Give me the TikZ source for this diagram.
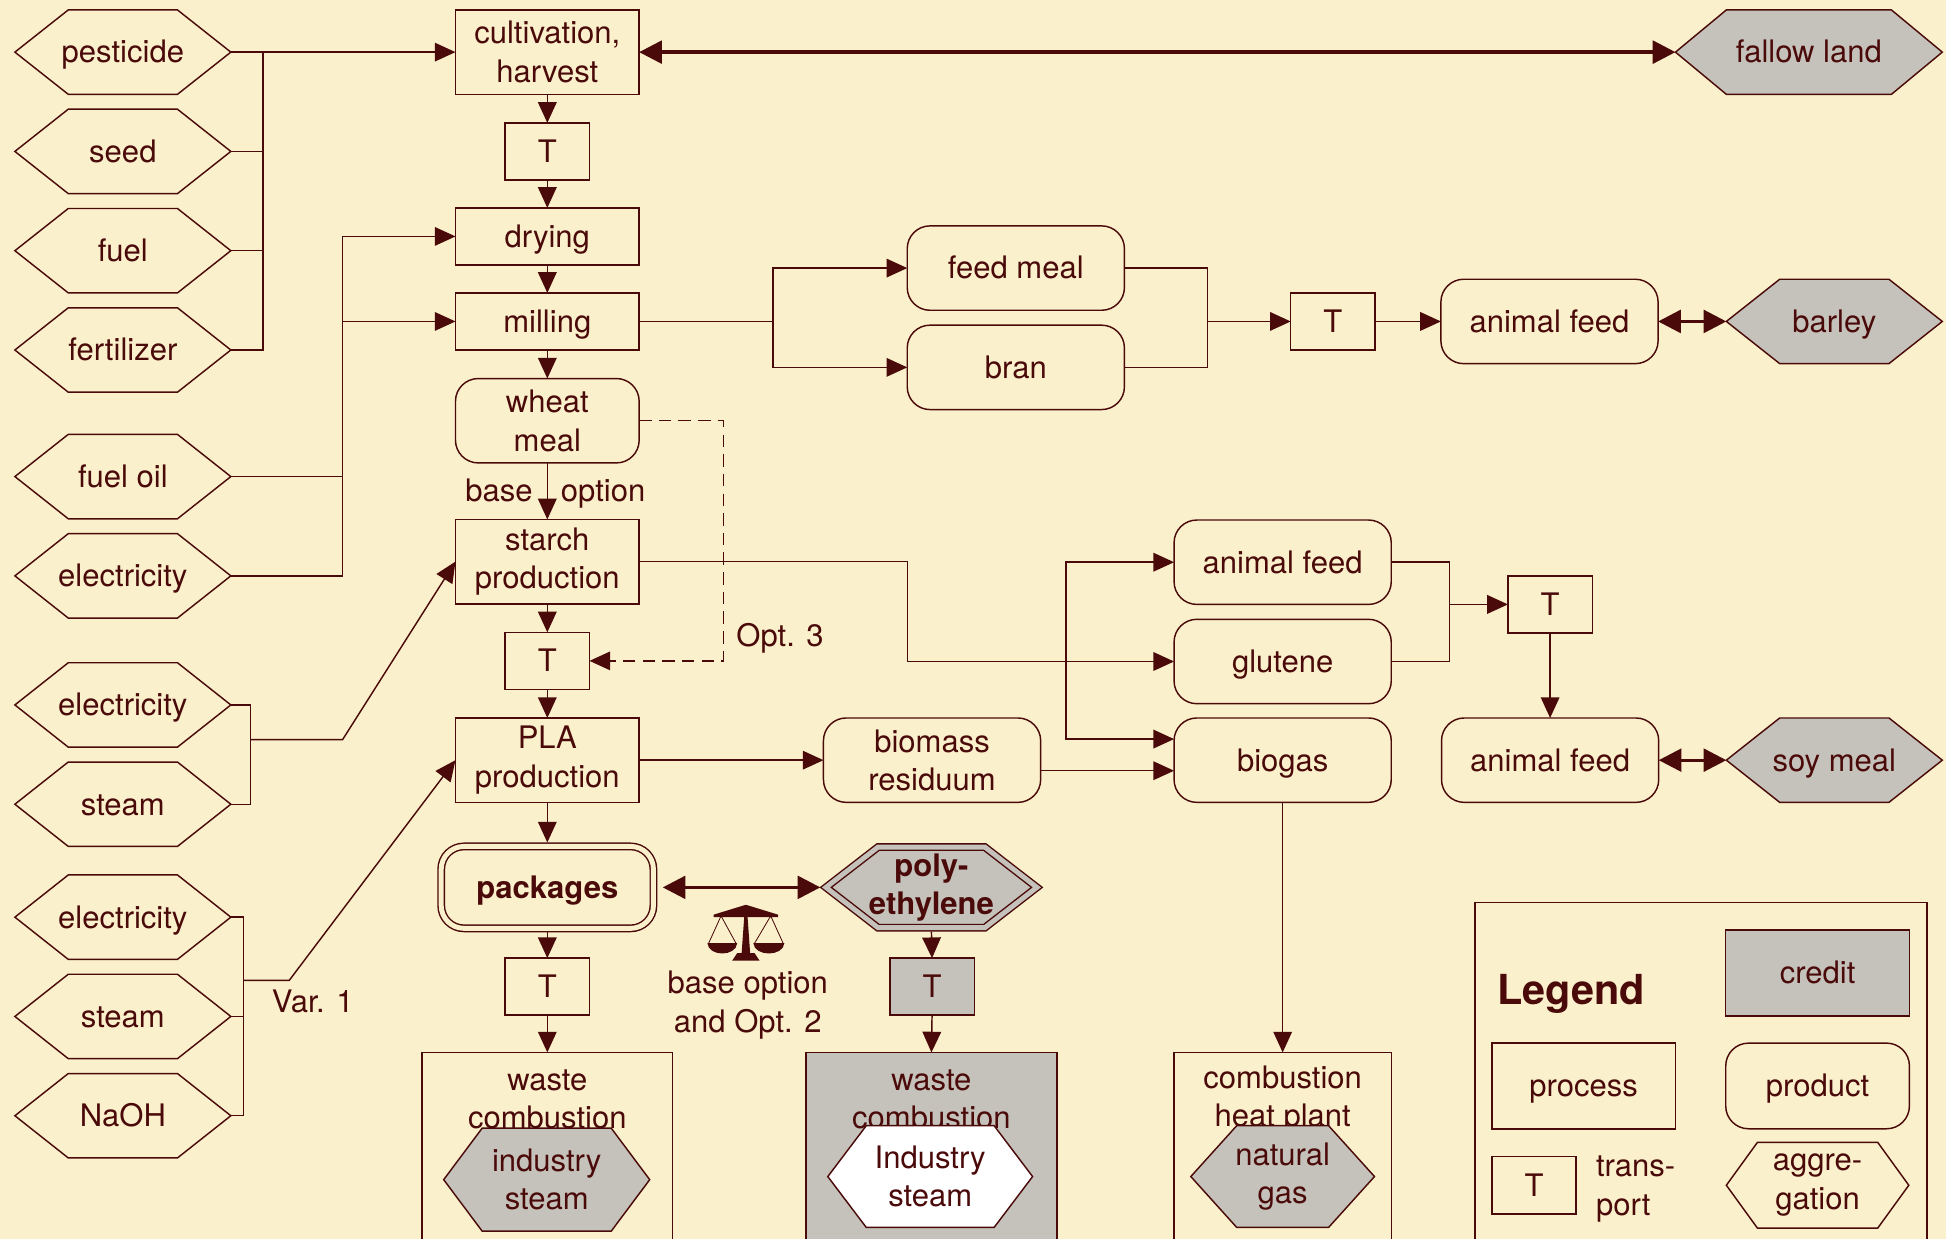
\documentclass[tikz,border=0pt]{standalone}
\usepackage{fontspec}
\setmainfont{TeX Gyre Heros}
\usetikzlibrary{arrows.meta,calc}
\definecolor{bg}{HTML}{FAF0CC}
\definecolor{ink}{HTML}{4B0A0A}
\definecolor{cred}{HTML}{C4C2BA}
\newcommand\hexnode[9]{%
  \path[#1] ({#2-#4},{#3}) -- ({#2-#4+#6},{#3-#5}) -- ({#2+#4-#6},{#3-#5}) -- ({#2+#4},{#3}) -- ({#2+#4-#6},{#3+#5}) -- ({#2-#4+#6},{#3+#5}) -- cycle;
  \node[base,sz={2*#4}{2*#5},#9] (#7) at (#2,#3) {#8};}
\begin{document}
\begin{tikzpicture}[x=0.6pt,y=-0.6pt,
  base/.style={font=\fontsize{15pt}{18.6pt}\selectfont, text=ink, align=center, inner sep=0pt, outer sep=0pt},
  one/.style={text height=12pt, text depth=1.5pt},
  sz/.style 2 args={minimum width={#1*0.6pt}, minimum height={#2*0.6pt}},
  proc/.style={base, draw=ink, line width=0.7pt, rectangle},
  prod/.style={proc, rounded corners=11pt},
  tbox/.style={proc, one, sz={68}{46}},
  ln/.style={draw=ink, line width=0.7pt},
  arr/.style={ln, -{Triangle[length=10pt,width=9pt]}},
  barr/.style={draw=ink, line width=1.6pt, {Triangle[length=11pt,width=11pt]}-{Triangle[length=11pt,width=11pt]}},
  hexl/.style={draw=ink, line width=0.7pt, line join=miter},
  bold/.style={font=\fontsize{15pt}{18.6pt}\selectfont\bfseries},
]
\fill[bg] (0,0) rectangle (1568,998);
\useasboundingbox (0,0) rectangle (1568,998);
\clip (0,0) rectangle (1568,998);

% ---- left aggregation hexagons
\hexnode{hexl}{99}{42}{87}{34}{43}{pest}{pesticide}{one}
\hexnode{hexl}{99}{122}{87}{34}{43}{seed}{seed}{one}
\hexnode{hexl}{99}{202}{87}{34}{43}{fuel}{fuel}{one}
\hexnode{hexl}{99}{282}{87}{34}{43}{fert}{fertilizer}{one}
\hexnode{hexl}{99}{384}{87}{34}{43}{foil}{fuel oil}{one}
\hexnode{hexl}{99}{464}{87}{34}{43}{elecA}{electricity}{one}
\hexnode{hexl}{99}{568}{87}{34}{43}{elecB}{electricity}{one}
\hexnode{hexl}{99}{648}{87}{34}{43}{steamB}{steam}{one}
\hexnode{hexl}{99}{739}{87}{34}{43}{elecC}{electricity}{one}
\hexnode{hexl}{99}{819}{87}{34}{43}{steamC}{steam}{one}
\hexnode{hexl}{99}{899}{87}{34}{43}{naoh}{NaOH}{one}

% ---- main chain
\node[proc,sz={148}{68}] (cult) at (441,42) {cultivation,\\harvest};
\node[tbox] (t1) at (441,122) {T};
\node[proc,one,sz={148}{46}] (dry) at (441,190.5) {drying};
\node[proc,one,sz={148}{46}] (mill) at (441,259) {milling};
\node[prod,sz={148}{68}] (wmeal) at (441,339) {wheat\\meal};
\node[proc,sz={148}{68}] (starch) at (441,452.5) {starch\\production};
\node[tbox] (t2) at (441,532.5) {T};
\node[proc,sz={148}{68}] (pla) at (441,612.5) {PLA\\production};
\node[prod,bold,one,sz={171}{66},double=bg,double distance=2.4pt] (pack) at (441,715) {packages};
\node[tbox] (t3) at (441,795) {T};
\node[proc,sz={202}{180},anchor=north] (wc1) at (441,848) {};
\node[base] (wc1t) at (441,886) {waste\\combustion};
\hexnode{hexl,fill=cred}{440.5}{950.5}{83}{41.5}{31}{is1}{industry\\steam}{}

% ---- polyethylene credit branch
\hexnode{hexl,fill=cred,double=cred,double distance=2.4pt}{750.5}{715}{85}{32.5}{42}{poly}{poly-\\ethylene}{bold}
\node[tbox,fill=cred] (t4) at (751,795) {T};
\node[proc,fill=cred,sz={202}{180},anchor=north] (wc2) at (750.5,848) {};
\node[base] (wc2t) at (750.5,886) {waste\\combustion};
\hexnode{hexl,fill=white}{749.5}{948}{82.5}{41}{31}{is2}{Industry\\steam}{}

% ---- scales icon and label
\fill[ink] (590,774) -- (612,774) -- (608,768) -- (594,768) -- cycle;
\fill[ink] (597.5,769) -- (604.5,769) -- (602,734) -- (600,734) -- cycle;
\fill[ink] (575,737) -- (601,729) -- (627,737) -- (627,739) -- (575,739) -- cycle;
\draw[ink,line width=0.4pt] (581,738) -- (571,760) (581,738) -- (593,760) (621,738) -- (608,760) (621,738) -- (631,760);
\fill[ink] (570,760) .. controls (571,771) and (593,771) .. (594,760) -- cycle;
\fill[ink] (607,760) .. controls (608,771) and (631,771) .. (632,760) -- cycle;
\node[base] (lbo) at (602.5,810) {base option\\and Opt. 2};

% ---- by-products
\node[prod,sz={175}{68}] (bio) at (751,612.5) {biomass\\residuum};
\node[prod,one,sz={175}{68}] (fm) at (818.5,216) {feed meal};
\node[prod,one,sz={175}{68}] (bran) at (818.5,296) {bran};
\node[tbox] (t5) at (1074,259) {T};
\node[prod,one,sz={175}{68}] (af1) at (1248.5,259) {animal feed};
\hexnode{hexl,fill=cred}{1478}{259}{87}{34}{43}{barley}{barley}{one}
\hexnode{hexl,fill=cred}{1457.5}{42}{107.5}{34}{41}{fallow}{fallow land}{one}
\node[prod,one,sz={175}{68}] (af2) at (1033.5,453) {animal feed};
\node[prod,one,sz={175}{68}] (glut) at (1033.5,533) {glutene};
\node[prod,one,sz={175}{68}] (biogas) at (1033.5,612.5) {biogas};
\node[tbox] (t6) at (1249,487) {T};
\node[prod,one,sz={175}{68}] (af3) at (1249,612.5) {animal feed};
\hexnode{hexl,fill=cred}{1478}{612.5}{87}{34}{43}{soy}{soy meal}{one}
\node[proc,sz={175}{180},anchor=north] (chp) at (1033.5,848) {};
\node[base] (chpt) at (1033.5,886) {combustion\\heat plant};
\hexnode{hexl,fill=cred}{1033.5}{948}{74}{41}{37}{ng}{natural\\gas}{}

% ---- legend
\node[proc,sz={364}{300},anchor=north] (leg) at (1370.6,727) {};
\node[base,font=\fontsize{20pt}{24pt}\selectfont\bfseries] (legt) at (1266,801) {Legend};
\node[proc,one,fill=cred,sz={148}{69}] (lcred) at (1464.5,784) {credit};
\node[proc,one,sz={148}{69}] (lproc) at (1276,875) {process};
\node[prod,one,sz={148}{69}] (lprod) at (1464.5,875) {product};
\node[tbox] (lt) at (1236,955) {T};
\node[base,align=left,anchor=west] (ltt) at (1286,958) {trans-\\port};
\hexnode{hexl}{1464.5}{955}{73.5}{34.5}{25}{lagg}{aggre-\\gation}{}

% ---- labels
\node[base,one] (lbase) at (402,395) {base};
\node[base,one] (lopt) at (486,395) {option};
\node[base,one] (lopt3) at (628.5,512) {Opt. 3};
\node[base,one] (lvar) at (252,807) {Var. 1};

% ---- connectors: inputs
\coordinate (ja) at (212,42);
\draw[arr] (pest.east) -- (cult.west);
\draw[ln] (ja) |- (fert.east);
\draw[ln] (seed.east) -- (seed.east -| ja);
\draw[ln] (fuel.east) -- (fuel.east -| ja);
\coordinate (jb) at (276,190.5);
\draw[arr] (elecA.east) -| (jb) -- (dry.west);
\draw[ln] (foil.east) -- (foil.east -| jb);
\draw[arr] (mill.west -| jb) -- (mill.west);
\coordinate (jc) at (202,596);
\coordinate (jc2) at (276,596);
\draw[ln] (elecB.east) -| (jc) |- (steamB.east);
\draw[arr] (jc) -- (jc2) -- (starch.west);
\coordinate (jd) at (196,790);
\coordinate (jd2) at (233,790);
\draw[ln] (elecC.east) -| (jd) |- (naoh.east);
\draw[ln] (steamC.east) -- (steamC.east -| jd);
\draw[arr] (jd) -- (jd2) -- (pla.west);

% ---- main chain
\draw[arr] (cult) -- (t1);
\draw[arr] (t1) -- (dry);
\draw[arr] (dry) -- (mill);
\draw[arr] (mill) -- (wmeal);
\draw[arr] (wmeal) -- (starch);
\draw[arr] (starch) -- (t2);
\draw[arr] (t2) -- (pla);
\draw[arr] (pla.south) -- ([yshift=1.9pt]pack.north);
\draw[arr] ([yshift=-1.9pt]pack.south) -- (t3.north);
\draw[arr] (t3.south) -- (wc1.north);
\draw[arr] ([yshift=-1.9pt]poly.south) -- (t4.north);
\draw[arr] (t4.south) -- (wc2.north);
\draw[barr,shorten <=4.5pt,shorten >=2.7pt] (pack.east) -- (poly.west);
\draw[barr] (cult.east) -- (fallow.west);

% ---- milling by-products
\coordinate (je) at (623,259);
\draw[ln] (mill.east) -- (je);
\draw[arr] (je) |- (fm.west);
\draw[arr] (je) |- (bran.west);
\coordinate (jf) at (973,259);
\draw[ln] (fm.east) -| (jf);
\draw[ln] (bran.east) -| (jf);
\draw[arr] (jf) -- (t5.west);
\draw[arr] (t5.east) -- (af1.west);
\draw[barr] (af1.east) -- (barley.west);

% ---- option 3 (dashed)
\coordinate (jg) at (583,532.5);
\draw[arr,dash pattern=on 6pt off 3.5pt] (wmeal.east) -| (jg) -- (t2.east);

% ---- starch by-products
\coordinate (jh) at (731,533);
\draw[arr] (starch.east) -| (jh) -- (glut.west);
\coordinate (ji) at (859,533);
\draw[arr] (ji) |- (af2.west);
\draw[arr] (ji) |- ([yshift=10.2pt]biogas.west);
\draw[arr] (pla.east) -- (bio.west);
\draw[arr] ([yshift=-5.1pt]bio.east) -- ([yshift=-5.1pt]biogas.west);
\coordinate (jj) at (1168,487);
\draw[ln] (af2.east) -| (jj);
\draw[ln] (glut.east) -| (jj);
\draw[arr] (jj) -- (t6.west);
\draw[arr] (t6.south) -- (af3.north);
\draw[barr] (af3.east) -- (soy.west);
\draw[arr] (biogas.south) -- (chp.north);
\end{tikzpicture}
\end{document}
